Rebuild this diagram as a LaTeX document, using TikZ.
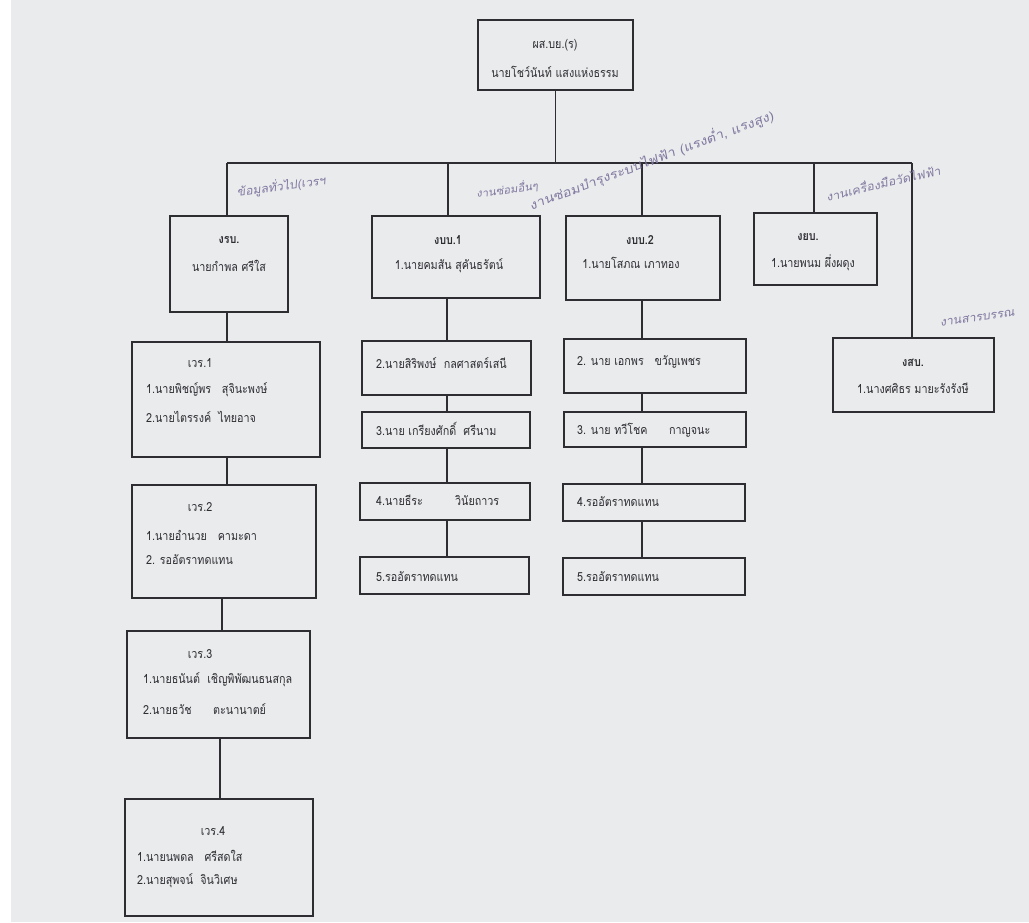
\documentclass[tikz,border=0pt]{standalone}
\usepackage{fontspec}
\newfontfamily\thai[Script=Thai]{Loma}
\usetikzlibrary{fit}
\definecolor{paper}{RGB}{234,235,237}
\definecolor{ink}{RGB}{45,45,50}
\definecolor{pen}{RGB}{128,120,160}
\tikzset{
  box/.style={draw=ink, line width=1.7pt, inner sep=0pt},
  wire/.style={draw=ink, line width=1.5pt},
  txt/.style={font=\thai\fontsize{12.5}{14}\selectfont, text=ink, inner sep=0pt, xscale=0.86},
  head/.style={txt, font=\thai\bfseries\fontsize{12.5}{14}\selectfont},
  note/.style={font=\thai\fontsize{12}{14}\selectfont, text=pen, inner sep=0pt, xslant=0.2}
}
\begin{document}
\begin{tikzpicture}[x=1pt, y=-1pt]
  % paper
  \fill[paper] (0,0) rectangle (1029,922);
  \fill[white] (0,0) rectangle (11,922);
  \useasboundingbox (0,0) rectangle (1029,922);

  % ---- head of the unit ----
  \node[box, fit={(478,20) (633,90)}] (top) {};
  \node[txt] (topA) at (555,45) {ผส.บย.(ร)};
  \node[txt] (topB) at (555,72) {นายโชว์นันท์ แสงแห่งธรรม};

  % ---- sections ----
  \node[box, fit={(170,216) (288,312)}] (grb) {};
  \node[head] (grbA) at (229,240) {งรบ.};
  \node[txt]  (grbB) at (229,266) {นายกำพล ศรีใส};

  \node[box, fit={(372,216) (540,298)}] (gbb1) {};
  \node[head] (gbb1A) at (448,240) {งบบ.1};
  \node[txt]  (gbb1B) at (449,266) {1.นายคมสัน สุคันธรัตน์};

  \node[box, fit={(566,216) (720,300)}] (gbb2) {};
  \node[head] (gbb2A) at (640,240) {งบบ.2};
  \node[txt]  (gbb2B) at (631,263) {1.นายโสภณ เภาทอง};

  \node[box, fit={(754,213) (877,285)}] (gyb) {};
  \node[head] (gybA) at (808,237) {งยบ.};
  \node[txt]  (gybB) at (813,263) {1.นายพนม ผึ่งผดุง};

  \node[box, fit={(833,338) (994,412)}] (gsb) {};
  \node[head] (gsbA) at (913,363) {งสบ.};
  \node[txt]  (gsbB) at (913,388) {1.นางศศิธร มายะรังรังษี};

  % ---- shifts under งรบ. ----
  \node[box, fit={(132,342) (320,457)}] (v1) {};
  \node[txt] (v1A) at (200,363) {เวร.1};
  \node[txt, anchor=west] (v1B) at (146,390) {1.นายพิชญ์พร\quad สุจินะพงษ์};
  \node[txt, anchor=west] (v1C) at (146,417) {2.นายไตรรงค์\ \ ไทยอาจ};

  \node[box, fit={(132,485) (316,598)}] (v2) {};
  \node[txt] (v2A) at (200,507) {เวร.2};
  \node[txt, anchor=west] (v2B) at (146,535) {1.นายอำนวย\quad คามะดา};
  \node[txt, anchor=west] (v2C) at (146,560) {2. รออัตราทดแทน};

  \node[box, fit={(127,631) (310,738)}] (v3) {};
  \node[txt] (v3A) at (200,654) {เวร.3};
  \node[txt, anchor=west] (v3B) at (143,680) {1.นายธนันต์\ \ เชิญพิพัฒนธนสกุล};
  \node[txt, anchor=west] (v3C) at (143,709) {2.นายธวัช\qquad ตะนานาตย์};

  \node[box, fit={(125,799) (313,916)}] (v4) {};
  \node[txt] (v4A) at (213,831) {เวร.4};
  \node[txt, anchor=west] (v4B) at (137,856) {1.นายนพดล\quad ศรีสดใส};
  \node[txt, anchor=west] (v4C) at (137,881) {2.นายสุพจน์\ \ จินวิเศษ};

  % ---- staff under งบบ.1 ----
  \node[box, fit={(362,341) (531,395)}] (m2) {};
  \node[txt, anchor=west] (m2A) at (376,363) {2.นายสิริพงษ์\ \ กลศาสตร์เสนี};
  \node[box, fit={(362,412) (530,448)}] (m3) {};
  \node[txt, anchor=west] (m3A) at (376,429) {3.นาย เกรียงศักดิ์\ \ ศรีนาม};
  \node[box, fit={(360,483) (530,520)}] (m4) {};
  \node[txt, anchor=west] (m4A) at (376,500) {4.นายธีระ\qquad\quad วินัยถาวร};
  \node[box, fit={(360,557) (529,594)}] (m5) {};
  \node[txt, anchor=west] (m5A) at (376,577) {5.รออัตราทดแทน};

  % ---- staff under งบบ.2 ----
  \node[box, fit={(564,339) (746,393)}] (r2) {};
  \node[txt, anchor=west] (r2A) at (577,362) {2. นาย เอกพร\quad ขวัญเพชร};
  \node[box, fit={(564,412) (746,447)}] (r3) {};
  \node[txt, anchor=west] (r3A) at (577,430) {3. นาย ทวีโชค\qquad กาญจนะ};
  \node[box, fit={(563,484) (745,521)}] (r4) {};
  \node[txt, anchor=west] (r4A) at (577,502) {4.รออัตราทดแทน};
  \node[box, fit={(563,558) (745,595)}] (r5) {};
  \node[txt, anchor=west] (r5A) at (577,577) {5.รออัตราทดแทน};

  % ---- connectors ----
  \coordinate (busL) at (227,163);
  \coordinate (busR) at (912,163);
  \coordinate (j1) at (448,163);
  \coordinate (j2) at (642,163);
  \coordinate (j3) at (814,163);
  \draw[wire] (top.south) -- (top.south |- busL);
  \draw[wire] (busL) -- (busR);
  \draw[wire] (busL) -- (busL |- grb.north);
  \draw[wire] (j1) -- (j1 |- gbb1.north);
  \draw[wire] (j2) -- (j2 |- gbb2.north);
  \draw[wire] (j3) -- (j3 |- gyb.north);
  \draw[wire] (busR) -- (busR |- gsb.north);

  \coordinate (c1) at (227,0);
  \coordinate (c3) at (222,0);
  \coordinate (c4) at (220,0);
  \draw[wire] (c1 |- grb.south) -- (c1 |- v1.north);
  \draw[wire] (c1 |- v1.south) -- (c1 |- v2.north);
  \draw[wire] (c3 |- v2.south) -- (c3 |- v3.north);
  \draw[wire] (c4 |- v3.south) -- (c4 |- v4.north);

  \coordinate (cm) at (447,0);
  \draw[wire] (cm |- gbb1.south) -- (cm |- m2.north);
  \draw[wire] (cm |- m2.south) -- (cm |- m3.north);
  \draw[wire] (cm |- m3.south) -- (cm |- m4.north);
  \draw[wire] (cm |- m4.south) -- (cm |- m5.north);

  \coordinate (cr) at (642,0);
  \draw[wire] (cr |- gbb2.south) -- (cr |- r2.north);
  \draw[wire] (cr |- r2.south) -- (cr |- r3.north);
  \draw[wire] (cr |- r3.south) -- (cr |- r4.north);
  \draw[wire] (cr |- r4.south) -- (cr |- r5.north);

  % ---- pen notes ----
  \node[note, rotate=8]  (n1) at (282,186) {ข้อมูลทั่วไป(เวรฯ};
  \node[note, rotate=8, font=\thai\fontsize{11}{13}\selectfont] (n2) at (508,189) {งานซ่อมอื่นๆ};
  \node[note, rotate=22, font=\thai\fontsize{13.5}{15}\selectfont] (n3) at (652,160) {งานซ่อมบำรุงระบบไฟฟ้า (แรงต่ำ, แรงสูง)};
  \node[note, rotate=14] (n4) at (884,182) {งานเครื่องมือวัดไฟฟ้า};
  \node[note, rotate=8]  (n5) at (978,318) {งานสารบรรณ};
\end{tikzpicture}
\end{document}
